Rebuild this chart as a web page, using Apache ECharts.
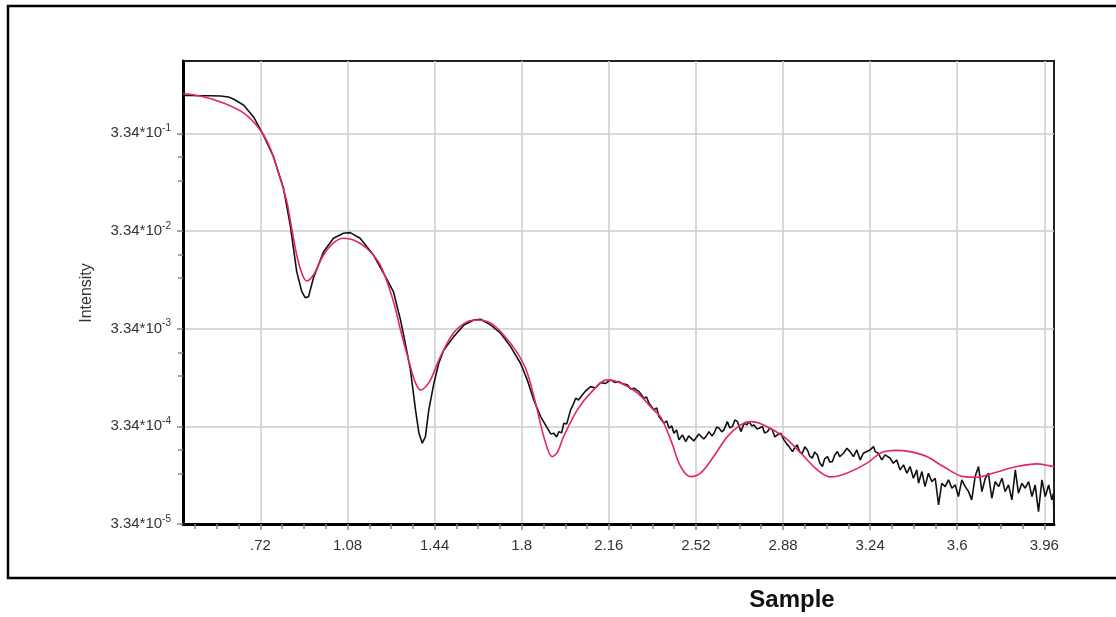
<!DOCTYPE html>
<html>
<head>
<meta charset="utf-8">
<title>Intensity vs Sample</title>
<script src="https://cdn.jsdelivr.net/npm/echarts@6/dist/echarts.min.js"></script>
<style>
  html, body { margin: 0; padding: 0; background: #ffffff; }
  #chart { width: 1116px; height: 617px; }
</style>
</head>
<body>
<div id="chart"></div>
<script>
// Measured curve (black): scattering vector and intensity
const measuredQ = [
  0.402, 0.431, 0.472, 0.513, 0.555, 0.588, 0.608, 0.650, 0.691, 0.732,
  0.774, 0.815, 0.843, 0.870, 0.891, 0.905, 0.919, 0.939, 0.981, 1.022,
  1.063, 1.091, 1.132, 1.187, 1.244, 1.270, 1.299, 1.320, 1.340, 1.361,
  1.375, 1.389, 1.402, 1.416, 1.437, 1.457, 1.478, 1.519, 1.561, 1.602,
  1.630, 1.671, 1.713, 1.754, 1.795, 1.823, 1.850, 1.878, 1.906, 1.920,
  1.933, 1.944, 1.954, 1.965, 1.974, 1.986, 2.002, 2.014, 2.023, 2.035,
  2.050, 2.064, 2.085, 2.105, 2.126, 2.147, 2.167, 2.184, 2.202, 2.217,
  2.237, 2.250, 2.264, 2.285, 2.305, 2.316, 2.326, 2.347, 2.358, 2.367,
  2.388, 2.399, 2.409, 2.420, 2.429, 2.440, 2.450, 2.464, 2.478, 2.490,
  2.498, 2.511, 2.519, 2.532, 2.540, 2.552, 2.561, 2.574, 2.586, 2.595,
  2.606, 2.616, 2.627, 2.636, 2.650, 2.660, 2.671, 2.681, 2.692, 2.706,
  2.719, 2.730, 2.740, 2.751, 2.760, 2.772, 2.781, 2.795, 2.804, 2.816,
  2.825, 2.836, 2.846, 2.857, 2.870, 2.884, 2.895, 2.905, 2.919, 2.928,
  2.939, 2.949, 2.960, 2.970, 2.981, 2.990, 3.001, 3.011, 3.022, 3.032,
  3.043, 3.052, 3.064, 3.073, 3.084, 3.094, 3.105, 3.114, 3.130, 3.144,
  3.157, 3.171, 3.185, 3.199, 3.212, 3.226, 3.240, 3.254, 3.261, 3.274,
  3.288, 3.302, 3.323, 3.336, 3.350, 3.364, 3.378, 3.392, 3.405, 3.419,
  3.433, 3.440, 3.454, 3.467, 3.481, 3.495, 3.509, 3.523, 3.536, 3.550,
  3.564, 3.578, 3.592, 3.605, 3.619, 3.633, 3.647, 3.660, 3.674, 3.688,
  3.702, 3.716, 3.729, 3.743, 3.757, 3.771, 3.785, 3.798, 3.812, 3.826,
  3.840, 3.853, 3.867, 3.881, 3.895, 3.909, 3.922, 3.936, 3.950, 3.964,
  3.978, 3.991, 3.998, 4.000
];
const measuredI = [
  0.814, 0.814, 0.810, 0.810, 0.804, 0.786, 0.749, 0.651, 0.494, 0.321,
  0.1924, 0.0920, 0.03847, 0.0128, 0.00799, 0.00694, 0.0071, 0.01103, 0.0205, 0.02812,
  0.03164, 0.03209, 0.02812, 0.01897, 0.01052, 0.00793, 0.0041, 0.002275, 0.001262, 0.000492,
  0.000286, 0.0002243, 0.000262, 0.000492, 0.000923, 0.001478, 0.002022, 0.002766, 0.003646, 0.0041,
  0.004169, 0.003646, 0.002997, 0.002185, 0.001478, 0.000997, 0.000622, 0.00042, 0.0003194, 0.000279,
  0.000284, 0.00026, 0.0002948, 0.000286, 0.000359, 0.0003535, 0.000492, 0.000566, 0.000648, 0.000622,
  0.0007, 0.000769, 0.000851, 0.000825, 0.000935, 0.000918, 0.000997, 0.00094, 0.000958, 0.000908,
  0.000887, 0.000806, 0.00082, 0.000757, 0.000648, 0.000668, 0.000576, 0.000492, 0.000516, 0.00042,
  0.000359, 0.000379, 0.0003194, 0.000337, 0.000284, 0.000307, 0.0002424, 0.0002728, 0.000233, 0.0002665,
  0.000262, 0.0002368, 0.0002424, 0.000279, 0.0002728, 0.000248, 0.000262, 0.0002948, 0.0002665, 0.000284,
  0.0003294, 0.0003194, 0.0002928, 0.000307, 0.000373, 0.000322, 0.000332, 0.000388, 0.000373, 0.0002948,
  0.000359, 0.0003453, 0.000373, 0.000337, 0.0003453, 0.0003143, 0.0003194, 0.000332, 0.000286, 0.0002948,
  0.000322, 0.000307, 0.00026, 0.0002728, 0.000284, 0.0002424, 0.0002207, 0.000207, 0.000184, 0.000201,
  0.0002156, 0.0001827, 0.000177, 0.0002056, 0.0001915, 0.0001663, 0.0001575, 0.0001827, 0.0001702, 0.000141,
  0.0001297, 0.000155, 0.0001636, 0.0001444, 0.0001454, 0.0001702, 0.000184, 0.0001636, 0.000177, 0.0001992,
  0.0001841, 0.0001637, 0.0001915, 0.0001513, 0.000177, 0.0001841, 0.0001915, 0.0002072, 0.0001841, 0.000177,
  0.0001513, 0.0001702, 0.0001574, 0.0001398, 0.0001513, 0.0001196, 0.0001345, 0.0001105, 0.0001293, 0.0000982,
  0.0001196, 0.0000873, 0.000115, 0.0000807, 0.0001105, 0.0000908, 0.0000982, 0.0000524, 0.0000873, 0.0000807,
  0.0000945, 0.0000776, 0.0000839, 0.0000638, 0.0000945, 0.0000807, 0.0000717, 0.000059, 0.0001022, 0.0001293,
  0.0000717, 0.0000982, 0.0001105, 0.0000613, 0.0000908, 0.0000807, 0.0000982, 0.0000717, 0.0000839, 0.000059,
  0.0001196, 0.000069, 0.0000873, 0.0000776, 0.0000908, 0.0000638, 0.0000839, 0.0000448, 0.0000945, 0.0000638,
  0.0000839, 0.000059, 0.000069, 0.0000334
];

// Fitted model curve (magenta)
const fitQ = [
  0.400, 0.484, 0.567, 0.650, 0.719, 0.760, 0.801, 0.829, 0.849, 0.870,
  0.891, 0.911, 0.939, 0.981, 1.022, 1.063, 1.105, 1.158, 1.215, 1.270,
  1.299, 1.340, 1.361, 1.382, 1.402, 1.423, 1.464, 1.518, 1.575, 1.616,
  1.671, 1.725, 1.782, 1.823, 1.864, 1.895, 1.926, 1.948, 1.973, 2.030,
  2.085, 2.154, 2.209, 2.278, 2.345, 2.374, 2.416, 2.457, 2.498, 2.540,
  2.593, 2.650, 2.705, 2.746, 2.800, 2.883, 2.953, 3.022, 3.077, 3.146,
  3.229, 3.284, 3.346, 3.404, 3.474, 3.543, 3.626, 3.681, 3.750, 3.847,
  3.929, 3.983, 4.000
];
const fitI = [
  0.853, 0.791, 0.682, 0.539, 0.361, 0.236, 0.1165, 0.0666, 0.0358, 0.01897,
  0.01241, 0.01028, 0.01184, 0.01897, 0.02518, 0.02812, 0.02702, 0.02237, 0.01499, 0.00631,
  0.00324, 0.001364, 0.000929, 0.000788, 0.000845, 0.000997, 0.001727, 0.003018, 0.003939, 0.0041,
  0.003821, 0.002879, 0.001885, 0.001176, 0.000492, 0.0002424, 0.0001636, 0.0001827, 0.000262, 0.000492,
  0.000734, 0.000997, 0.000929, 0.000734, 0.000492, 0.000417, 0.0002424, 0.0001293, 0.0001021, 0.0001114,
  0.0001636, 0.000262, 0.0003453, 0.000373, 0.0003453, 0.000262, 0.0001785, 0.0001196, 0.0001014, 0.0001114,
  0.000141, 0.0001785, 0.0001893, 0.000184, 0.0001636, 0.0001293, 0.0001021, 0.0001007, 0.0001114, 0.0001293,
  0.0001377, 0.0001314, 0.0001293
];

// Axis ticks
const xTickValues = [0.72, 1.08, 1.44, 1.8, 2.16, 2.52, 2.88, 3.24, 3.6, 3.96];
const xTickLabels = ['.72', '1.08', '1.44', '1.8', '2.16', '2.52', '2.88', '3.24', '3.6', '3.96'];
const xMinorTickValues = [
  0.45, 0.54, 0.63, 0.81, 0.90, 0.99, 1.17, 1.26, 1.35, 1.53, 1.62, 1.71,
  1.89, 1.98, 2.07, 2.25, 2.34, 2.43, 2.61, 2.70, 2.79, 2.97, 3.06, 3.15,
  3.33, 3.42, 3.51, 3.69, 3.78, 3.87
];
const yTickValues = [3.34e-5, 3.34e-4, 3.34e-3, 3.34e-2, 3.34e-1];
const yTickExponents = ['-5', '-4', '-3', '-2', '-1'];
const yMinorTickValues = [1.9e-1, 1.1e-1, 1.9e-2, 1.1e-2, 1.9e-3, 1.1e-3, 1.9e-4, 1.1e-4];

const FONT = '"Liberation Sans", Arial, sans-serif';
const X_MIN = 0.4, X_MAX = 4.0;
const Y_MIN = 3.34e-5, Y_MAX = 1.835;

function pairs(xs, ys) {
  return xs.map((x, i) => [x, ys[i]]);
}

function findIndex(list, v) {
  for (let i = 0; i < list.length; i++) {
    if (Math.abs(list[i] - v) < 1e-9 * Math.max(1, Math.abs(v)) || Math.abs(list[i] - v) / list[i] < 1e-6) return i;
  }
  return -1;
}

const chart = echarts.init(document.getElementById('chart'), null, { renderer: 'canvas' });

chart.setOption({
  animation: false,
  backgroundColor: '#ffffff',
  grid: {
    left: 183, top: 61, width: 871, height: 463,
    show: true, borderColor: '#222222', borderWidth: 2, backgroundColor: 'transparent'
  },
  xAxis: [
    {
      type: 'value', position: 'bottom', min: X_MIN, max: X_MAX,
      axisLine: { show: true, onZero: false, lineStyle: { color: '#000000', width: 3 } },
      axisTick: { show: true, inside: false, length: 6, customValues: xTickValues,
                  lineStyle: { color: '#888888', width: 1.5 } },
      axisLabel: {
        customValues: xTickValues, margin: 14, fontSize: 15, color: '#333333', fontFamily: FONT,
        formatter: function (v) { const i = findIndex(xTickValues, v); return i >= 0 ? xTickLabels[i] : ''; }
      },
      splitLine: { show: true, lineStyle: { color: '#cccccc', width: 1.5 } }
    },
    {
      type: 'value', position: 'bottom', min: X_MIN, max: X_MAX,
      axisLine: { show: false },
      axisTick: { show: true, inside: false, length: 5, customValues: xMinorTickValues,
                  lineStyle: { color: '#888888', width: 1.5 } },
      axisLabel: { show: false },
      splitLine: { show: false }
    }
  ],
  yAxis: [
    {
      type: 'log', logBase: 10, position: 'left', min: Y_MIN, max: Y_MAX,
      axisLine: { show: true, lineStyle: { color: '#000000', width: 3 } },
      axisTick: { show: true, inside: false, length: 6, customValues: yTickValues,
                  lineStyle: { color: '#888888', width: 1.5 } },
      axisLabel: {
        customValues: yTickValues, margin: 12, color: '#333333', fontFamily: FONT,
        formatter: function (v) {
          const i = findIndex(yTickValues, v);
          return i >= 0 ? '{b|3.34*10}{s|' + yTickExponents[i] + '}' : '';
        },
        rich: {
          b: { fontSize: 15, lineHeight: 20, color: '#333333', fontFamily: FONT },
          s: { fontSize: 10, lineHeight: 10, verticalAlign: 'top', color: '#333333', fontFamily: FONT }
        }
      },
      splitLine: { show: true, lineStyle: { color: '#cccccc', width: 1.5 } }
    },
    {
      type: 'log', logBase: 10, position: 'left', min: Y_MIN, max: Y_MAX,
      axisLine: { show: false },
      axisTick: { show: true, inside: false, length: 5, customValues: yMinorTickValues,
                  lineStyle: { color: '#888888', width: 1.5 } },
      axisLabel: { show: false },
      splitLine: { show: false }
    }
  ],
  graphic: [
    {
      type: 'rect', silent: true, z: -10,
      shape: { x: 8, y: 6, width: 1130, height: 572 },
      style: { fill: 'none', stroke: '#000000', lineWidth: 2.5 }
    },
    {
      type: 'text', silent: true, x: 87, y: 293, rotation: Math.PI / 2,
      style: { text: 'Intensity', fontSize: 16, fontFamily: FONT, fill: '#333333',
               align: 'center', verticalAlign: 'middle' }
    },
    {
      type: 'text', silent: true, x: 792, y: 600,
      style: { text: 'Sample', fontSize: 24, fontWeight: 'bold', fontFamily: FONT, fill: '#111111',
               align: 'center', verticalAlign: 'middle' }
    }
  ],
  series: [
    {
      name: 'Measured', type: 'line', xAxisIndex: 0, yAxisIndex: 0,
      showSymbol: false, symbol: 'none', clip: true,
      lineStyle: { color: '#111111', width: 1.6 },
      data: pairs(measuredQ, measuredI), z: 3
    },
    {
      name: 'Fit', type: 'line', xAxisIndex: 0, yAxisIndex: 0,
      showSymbol: false, symbol: 'none', clip: true, smooth: 0.35,
      lineStyle: { color: '#e3246f', width: 1.6 },
      data: pairs(fitQ, fitI), z: 4
    }
  ]
});
</script>
</body>
</html>
